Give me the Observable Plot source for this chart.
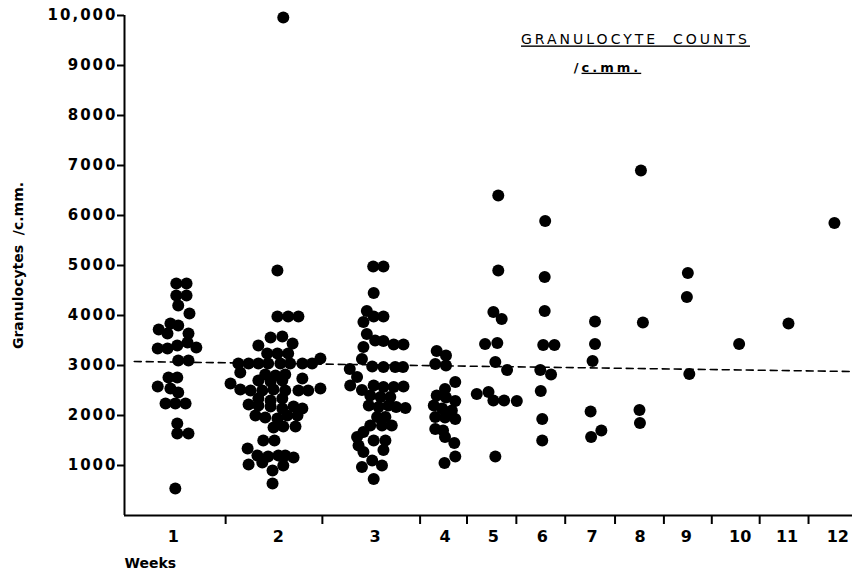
<!DOCTYPE html>
<html><head><meta charset="utf-8">
<script src="https://cdn.jsdelivr.net/npm/d3@7"></script>
<script src="https://cdn.jsdelivr.net/npm/@observablehq/plot@0.6"></script>
<style>
html,body{margin:0;padding:0;background:#fff;}
#chart svg{display:block;}
</style></head><body><div id="chart"></div>
<script>
// Week axis: position units along the x axis (weeks 1-3 occupy wider columns)
const weekLabels = ["1","2","3","4","5","6","7","8","9","10","11","12"];
const weekCenters = [1.0, 3.15, 5.13, 6.56, 7.55, 8.55, 9.57, 10.55, 11.5, 12.6, 13.56, 14.6];
const weekBounds = [2.07, 4.05, 6.05, 7.01, 8.02, 9.02, 10.04, 11.04, 12.02, 13.0, 14.0];
const yTicks = [1000,2000,3000,4000,5000,6000,7000,8000,9000,10000];

// Dots: [position along week axis, granulocytes /c.mm.]
const week1 = [[1.06,4640],[1.27,4640],[1.06,4400],[1.27,4400],[1.10,4200],[1.33,4040],[0.94,3840],[0.70,3720],[1.10,3800],[0.88,3640],[1.31,3640],[0.68,3340],[0.88,3340],[1.08,3400],[1.29,3460],[1.47,3360],[1.10,3100],[1.31,3100],[0.90,2760],[1.08,2760],[0.68,2580],[0.94,2540],[1.10,2460],[0.84,2240],[1.04,2240],[1.25,2240],[1.08,1840],[1.08,1640],[1.31,1640],[1.04,540]];
const week2 = [[3.25,9960],[3.13,4900],[3.13,3980],[3.35,3980],[3.56,3980],[2.74,3400],[2.99,3560],[3.23,3580],[3.44,3440],[2.92,3240],[3.13,3240],[3.35,3240],[2.33,3040],[2.54,3040],[2.74,3040],[2.94,3040],[3.19,3040],[3.39,3040],[3.64,3040],[3.84,3040],[4.01,3140],[2.37,2860],[2.88,2820],[3.09,2800],[3.29,2820],[2.74,2700],[2.99,2680],[3.23,2700],[3.64,2740],[2.17,2640],[2.37,2520],[2.58,2500],[2.82,2500],[3.05,2520],[3.29,2500],[3.56,2500],[3.76,2500],[4.01,2540],[2.74,2340],[2.99,2300],[3.23,2340],[2.54,2220],[2.74,2200],[2.99,2180],[3.23,2140],[3.46,2180],[3.64,2140],[2.68,2000],[2.88,1960],[3.13,1940],[3.33,2000],[3.54,2000],[3.05,1760],[3.25,1780],[3.50,1780],[2.84,1500],[3.07,1500],[2.52,1340],[2.72,1200],[2.94,1180],[3.15,1200],[3.29,1200],[3.46,1160],[2.54,1020],[2.82,1060],[3.25,1000],[3.03,900],[3.03,640]];
const week3 = [[5.09,4980],[5.30,4980],[5.10,4450],[4.96,4090],[5.10,3980],[5.30,3980],[4.89,3870],[4.96,3630],[5.13,3500],[5.30,3490],[5.51,3420],[5.71,3420],[4.89,3370],[4.86,3130],[5.07,2980],[5.30,2970],[5.54,2970],[5.70,2970],[4.61,2930],[4.76,2770],[4.62,2600],[4.86,2510],[5.10,2600],[5.30,2570],[5.51,2570],[5.71,2580],[5.03,2400],[5.24,2370],[5.44,2370],[5.00,2200],[5.20,2170],[5.40,2200],[5.56,2170],[5.75,2150],[5.17,1970],[5.34,1970],[5.03,1800],[5.27,1800],[5.47,1800],[4.89,1670],[4.76,1570],[5.10,1500],[5.34,1500],[4.79,1400],[5.30,1310],[4.89,1270],[5.07,1100],[5.27,1000],[4.86,970],[5.10,730]];
const week4 = [[6.39,3290],[6.58,3200],[6.36,3030],[6.58,3000],[6.77,2670],[6.56,2530],[6.39,2400],[6.58,2360],[6.77,2290],[6.33,2200],[6.50,2140],[6.70,2100],[6.36,1970],[6.56,1960],[6.77,1930],[6.36,1730],[6.52,1700],[6.56,1570],[6.75,1450],[6.77,1180],[6.55,1050]];
const week5 = [[7.65,6400],[7.65,4900],[7.55,4070],[7.72,3930],[7.38,3430],[7.63,3450],[7.59,3070],[7.83,2910],[7.21,2430],[7.45,2470],[7.55,2300],[7.77,2300],[8.03,2290],[7.59,1180]];
const week6 = [[8.61,5890],[8.60,4770],[8.60,4090],[8.57,3410],[8.80,3410],[8.51,2910],[8.73,2820],[8.52,2490],[8.55,1930],[8.55,1500]];
const week7 = [[9.63,3880],[9.63,3430],[9.58,3090],[9.54,2080],[9.76,1700],[9.55,1570]];
const week8 = [[10.57,6900],[10.61,3860],[10.54,2110],[10.55,1850]];
const week9 = [[11.53,4850],[11.51,4370],[11.56,2830]];
const week10 = [[12.58,3430]];
const week11 = [[13.59,3840]];
const week12 = [[14.53,5850]];

// Dashed reference line
const refPos = [0.2, 14.9];
const refCount = [3080, 2880];

const titleText = "GRANULOCYTE\u00a0\u00a0COUNTS";
const subtitleText = "/c.mm.";
const yLabel = "Granulocytes\u00a0\u00a0/c.mm.";
const xLabel = "Weeks";

const allWeeks = [week1,week2,week3,week4,week5,week6,week7,week8,week9,week10,week11,week12];
const dots = allWeeks.flatMap((arr, i) => arr.map(([pos, count]) => ({week: i + 1, pos, count})));
const refLine = refPos.map((p, i) => ({pos: p, count: refCount[i]}));
const yFmt = d => d === 10000 ? "10,000" : String(d);

const font = "DejaVu Sans, sans-serif";
const plot = Plot.plot({
  width: 852, height: 578,
  marginLeft: 124, marginRight: 0, marginTop: 15, marginBottom: 63,
  style: {background: "#fff", color: "#000", fontFamily: font},
  x: {domain: [0, 14.9], axis: null},
  y: {domain: [0, 10000], axis: null},
  marks: [
    Plot.ruleY([0], {stroke: "#000", strokeWidth: 2}),
    Plot.ruleX([0], {y1: 0, y2: 10000, stroke: "#000", strokeWidth: 2}),
    Plot.axisY({ticks: yTicks, tickSize: 7, tickPadding: 0, strokeWidth: 2,
      tickFormat: yFmt, fontSize: 15, fontWeight: "bold", label: null}),
    Plot.axisX({ticks: weekBounds, tickSize: 9, strokeWidth: 2, tickFormat: () => "", label: null}),
    Plot.axisX({ticks: weekCenters, tickSize: 0, tickPadding: 15,
      tickFormat: (d, i) => weekLabels[i], fontSize: 16, fontWeight: "bold", label: null}),
    Plot.line(refLine, {x: "pos", y: "count", stroke: "#000", strokeWidth: 1.6, strokeDasharray: "7,5"}),
    Plot.dot(dots, {x: "pos", y: "count", r: 6, fill: "#000", stroke: "none"}),
    Plot.text([yLabel], {frameAnchor: "left", textAnchor: "middle", dx: -106, rotate: -90, text: d => d, fontSize: 14, fontWeight: "bold"}),
    Plot.text([xLabel], {frameAnchor: "bottom-left", dy: 52, dx: 0, textAnchor: "start", text: d => d, fontSize: 14, fontWeight: "bold"}),
    Plot.text([titleText], {frameAnchor: "top", textAnchor: "middle", dx: 147, dy: 19, text: d => d, fontSize: 14}),
    Plot.text([subtitleText], {frameAnchor: "top", textAnchor: "middle", dx: 119, dy: 47, text: d => d, fontSize: 13, fontWeight: "bold"})
  ]
});
document.getElementById("chart").appendChild(plot);
const yLabelSet = new Set(yTicks.map(yFmt));
d3.select(plot).selectAll("text").each(function() {
  const t = d3.select(this);
  const s = t.text();
  if (yLabelSet.has(s)) {
    t.style("letter-spacing", "2px");
  } else if (s === titleText) {
    t.style("letter-spacing", "3px").style("text-decoration", "underline")
     .style("text-decoration-thickness", "2px").style("text-underline-offset", "3px");
  } else if (s === subtitleText) {
    t.text(null).style("letter-spacing", "3px");
    t.append("tspan").text(s.slice(0, 1));
    t.append("tspan").style("text-decoration", "underline")
     .style("text-decoration-thickness", "2px").style("text-underline-offset", "3px").text(s.slice(1));
  }
});
</script></body></html>
